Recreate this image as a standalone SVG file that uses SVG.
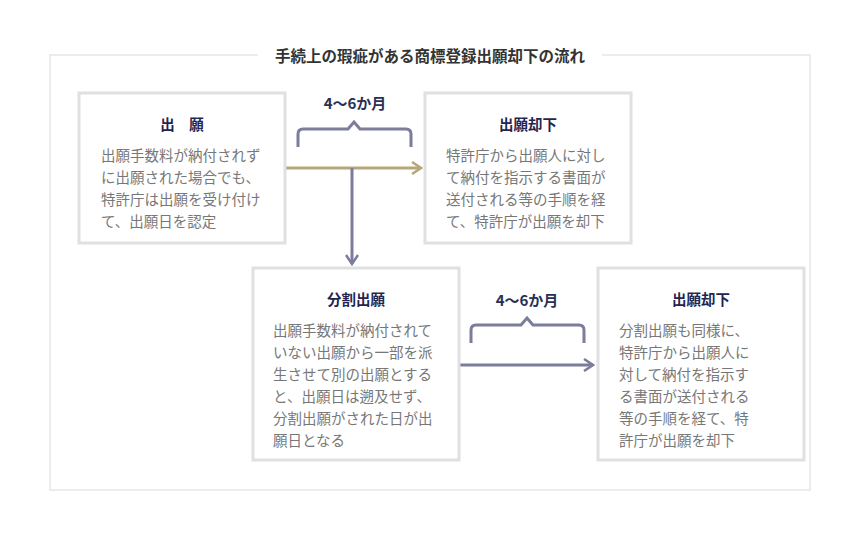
<svg xmlns="http://www.w3.org/2000/svg" width="860" height="540" viewBox="0 0 860 540">
<style>
text{font-family:"Noto Sans CJK JP","Noto Sans",sans-serif}
.box{fill:#fff;stroke:#e0e0e0;stroke-width:3}
.h{font-size:14.5px;font-weight:bold;fill:#1f2550;text-anchor:middle}
.b{font-size:14.5px;fill:#777}
.br{fill:none;stroke:#7b7d9a;stroke-width:3}
.lb{font-size:15px;font-weight:bold;fill:#2a2f55;text-anchor:middle}
</style>
<defs>
<marker id="ag" markerWidth="12" markerHeight="14" refX="10" refY="7" orient="auto" markerUnits="userSpaceOnUse"><path d="M1,1 L10,7 L1,13" fill="none" stroke="#b5a77a" stroke-width="2.5"/></marker>
<marker id="ap" markerWidth="12" markerHeight="14" refX="10" refY="7" orient="auto" markerUnits="userSpaceOnUse"><path d="M1,1 L10,7 L1,13" fill="none" stroke="#7b7d9a" stroke-width="2.5"/></marker>
</defs>
<rect x="0" y="0" width="860" height="540" fill="#fff"/>
<rect x="50" y="55" width="760" height="435" fill="none" stroke="#e6e6e6" stroke-width="1.5"/>
<rect x="258" y="45" width="344" height="20" fill="#fff"/>
<text x="430" y="62" font-size="15.5" font-weight="bold" fill="#333" text-anchor="middle">手続上の瑕疵がある商標登録出願却下の流れ</text>
<g id="connectors">
<line x1="286" y1="168" x2="421" y2="168" stroke="#b5a77a" stroke-width="3" marker-end="url(#ag)"/>
<line x1="352" y1="168" x2="352" y2="264" stroke="#7b7d9a" stroke-width="3" marker-end="url(#ap)"/>
<line x1="460" y1="365" x2="593" y2="365" stroke="#7b7d9a" stroke-width="3" marker-end="url(#ap)"/>
<path class="br" d="M298,147 V134 Q298,129 303,129 H348 L354,122 L360,129 H406 Q411,129 411,134 V147"/>
<text class="lb" x="355" y="109">4〜6か月</text>
<path class="br" d="M471,343 V330 Q471,325 476,325 H521 L527,318 L533,325 H579 Q584,325 584,330 V343"/>
<text class="lb" x="527" y="306">4〜6か月</text>
</g>
<g id="n1"><rect class="box" x="79" y="93" width="206" height="150"/>
<text class="h" x="182" y="130">出　願</text>
<text class="b" x="101" y="161">出願手数料が納付されず</text>
<text class="b" x="101" y="183">に出願された場合でも、</text>
<text class="b" x="101" y="205">特許庁は出願を受け付け</text>
<text class="b" x="101" y="227">て、出願日を認定</text></g>
<g id="n2"><rect class="box" x="425" y="93" width="206" height="150"/>
<text class="h" x="528" y="130">出願却下</text>
<text class="b" x="446" y="161">特許庁から出願人に対し</text>
<text class="b" x="446" y="183">て納付を指示する書面が</text>
<text class="b" x="446" y="205">送付される等の手順を経</text>
<text class="b" x="446" y="227">て、特許庁が出願を却下</text></g>
<g id="n3"><rect class="box" x="253" y="268" width="206" height="192"/>
<text class="h" x="356" y="305">分割出願</text>
<text class="b" x="273" y="336">出願手数料が納付されて</text>
<text class="b" x="273" y="358">いない出願から一部を派</text>
<text class="b" x="273" y="380">生させて別の出願とする</text>
<text class="b" x="273" y="402">と、出願日は遡及せず、</text>
<text class="b" x="273" y="424">分割出願がされた日が出</text>
<text class="b" x="273" y="446">願日となる</text></g>
<g id="n4"><rect class="box" x="598" y="268" width="206" height="192"/>
<text class="h" x="701" y="305">出願却下</text>
<text class="b" x="619" y="336">分割出願も同様に、</text>
<text class="b" x="619" y="358">特許庁から出願人に</text>
<text class="b" x="619" y="380">対して納付を指示す</text>
<text class="b" x="619" y="402">る書面が送付される</text>
<text class="b" x="619" y="424">等の手順を経て、特</text>
<text class="b" x="619" y="446">許庁が出願を却下</text></g>
</svg>
